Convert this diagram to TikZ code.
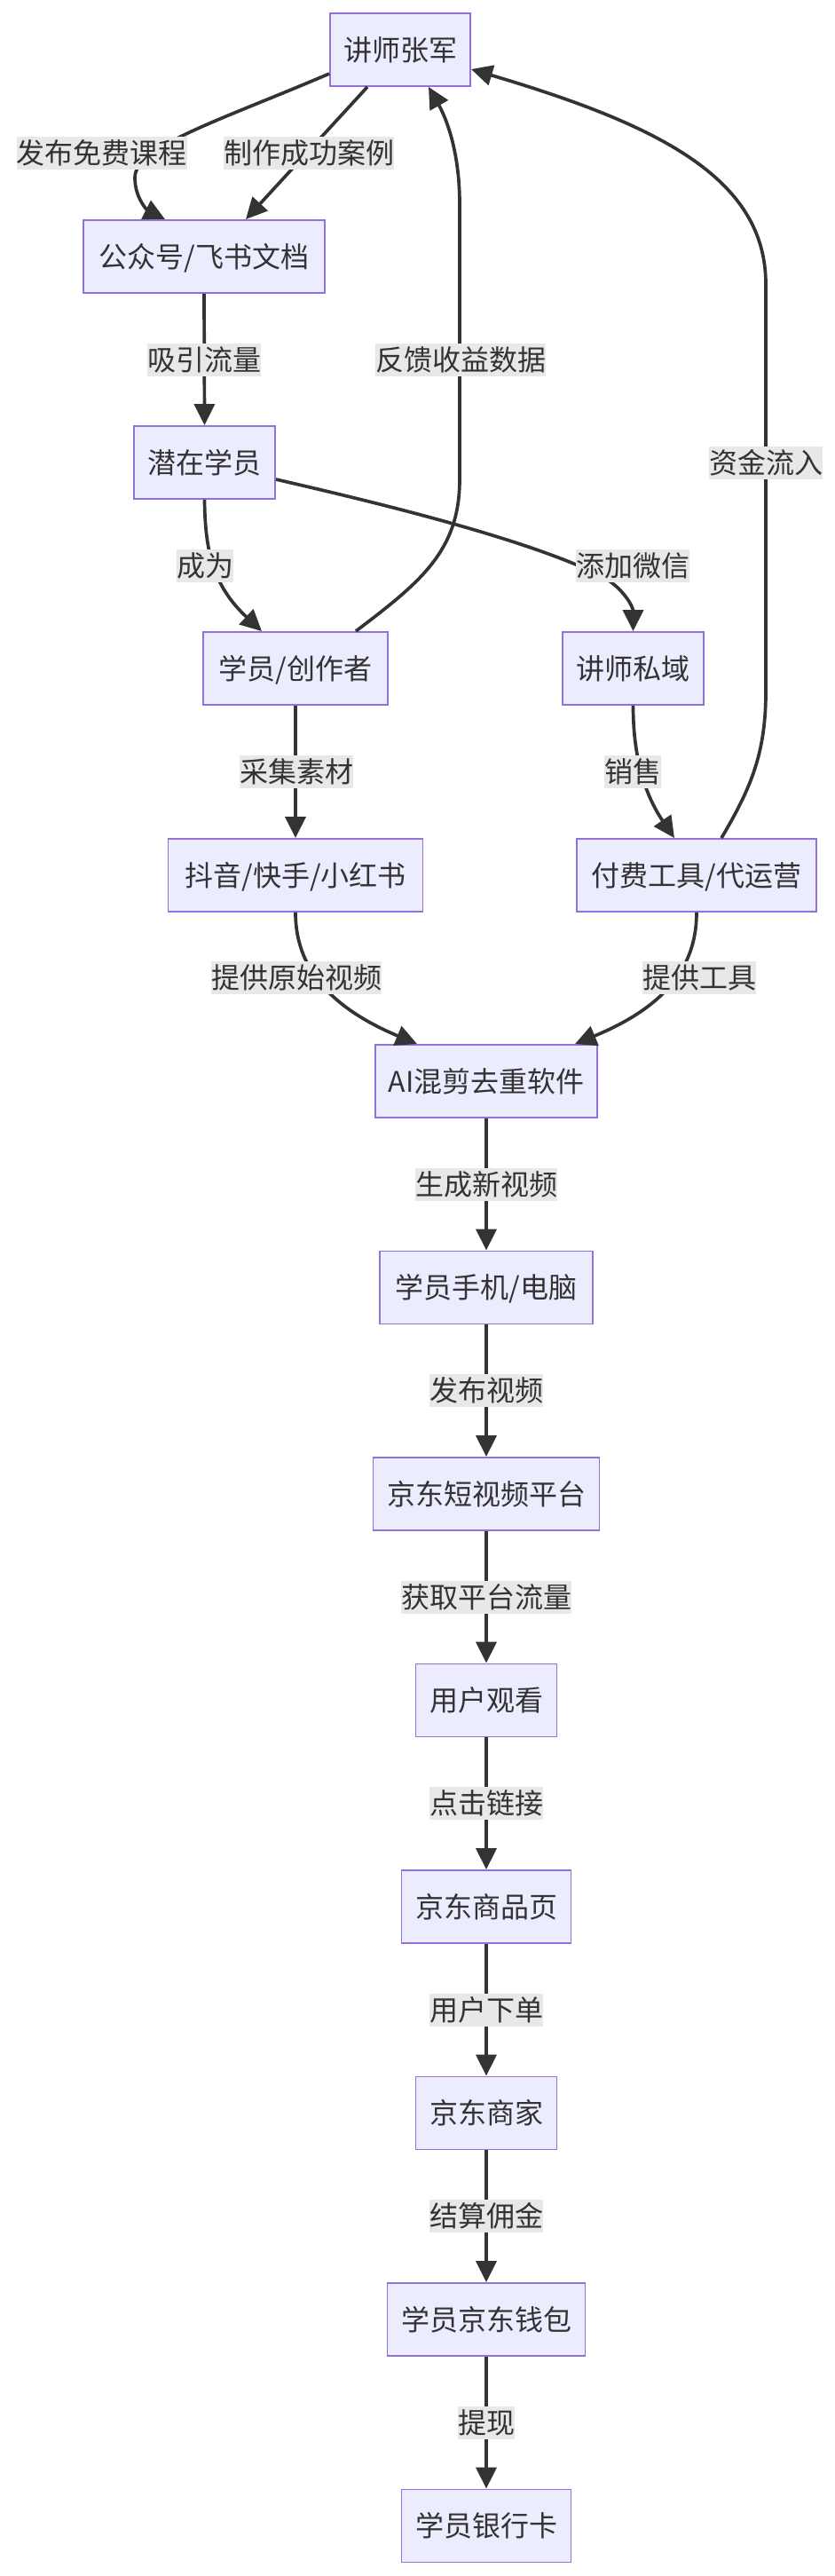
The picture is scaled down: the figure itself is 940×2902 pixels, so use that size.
\documentclass[tikz,border=0pt]{standalone}
\usepackage{fontspec}
\newfontfamily\cjk{Noto Sans CJK SC}
\usetikzlibrary{arrows.meta}
\definecolor{boxfill}{HTML}{ECECFF}
\definecolor{boxline}{HTML}{9370DB}
\definecolor{ink}{HTML}{333333}
\definecolor{lblbg}{HTML}{E8E8E8}
\begin{document}
\begin{tikzpicture}[x=1pt,y=-1pt,
  box/.style={draw=boxline, line width=1.9pt, fill=boxfill, minimum height=82pt,
    inner sep=0pt, text=ink, font=\cjk\fontsize{32}{38}\selectfont,
    text height=26pt, text depth=2pt},
  lbl/.style={fill=lblbg, inner sep=0pt, minimum height=37pt, text=ink,
    font=\cjk\fontsize{32}{38}\selectfont, text height=26pt, text depth=2pt},
  edge/.style={draw=ink, line width=3.7pt, -{Triangle[length=24pt,width=23pt]}},
]
\useasboundingbox[fill=white] (0,0) rectangle (940,2902);

% nodes
\node[box, minimum width=158pt] (T) at (451,56) {讲师张军};
\node[box, minimum width=272pt] (G) at (230,289) {公众号/飞书文档};
\node[box, minimum width=159pt] (P) at (230.5,521) {潜在学员};
\node[box, minimum width=208pt] (S) at (333,753) {学员/创作者};
\node[box, minimum width=159pt] (W) at (713.5,753) {讲师私域};
\node[box, minimum width=287pt] (D) at (333,986) {抖音/快手/小红书};
\node[box, minimum width=270pt] (F) at (785,986) {付费工具/代运营};
\node[box, minimum width=250pt] (A) at (548,1218) {AI混剪去重软件};
\node[box, minimum width=240pt] (M) at (548,1450.5) {学员手机/电脑};
\node[box, minimum width=255pt] (J) at (548,1683) {京东短视频平台};
\node[box, minimum width=159pt] (U) at (548,1915.5) {用户观看};
\node[box, minimum width=191pt] (Pg) at (548,2148) {京东商品页};
\node[box, minimum width=159pt] (Mc) at (548,2380.5) {京东商家};
\node[box, minimum width=223pt] (Wl) at (548,2613) {学员京东钱包};
\node[box, minimum width=191pt] (B) at (548,2845.5) {学员银行卡};

% edges
\draw[edge] ([yshift=-27pt]T.west) .. controls (250,135) and (152,165) .. (152,200)
  .. controls (152,225) and (168,238) .. ([xshift=-44pt]G.north);
\draw[edge] ([xshift=-37pt]T.south) -- ([xshift=47pt]G.north);
\draw[edge] (G.south) -- (P.north);
\draw[edge] ([xshift=68pt]S.north) .. controls (475,655) and (518,620) .. (518,540)
  -- (518,230) .. controls (518,165) and (500,128) .. ([xshift=32pt]T.south);
\draw[edge] ([xshift=28pt]F.north) .. controls (845,890) and (863,850) .. (863,780)
  -- (863,320) .. controls (863,200) and (740,140) .. ([yshift=-22pt]T.east);
\draw[edge] (P.south) .. controls (231,620) and (240,660) .. ([xshift=-38pt]S.north);
\draw[edge] ([yshift=-19pt]P.east) .. controls (450,572) and (600,610) .. (680,650)
  .. controls (705,665) and (713.5,685) .. (W.north);
\draw[edge] (S.south) -- (D.north);
\draw[edge] (W.south) .. controls (713.5,860) and (730,900) .. ([xshift=-25pt]F.north);
\draw[edge] (D.south) .. controls (333,1080) and (360,1130) .. ([xshift=-78pt]A.north);
\draw[edge] (F.south) .. controls (785,1080) and (760,1130) .. ([xshift=100pt]A.north);
\draw[edge] (A.south) -- (M.north);
\draw[edge] (M.south) -- (J.north);
\draw[edge] (J.south) -- (U.north);
\draw[edge] (U.south) -- (Pg.north);
\draw[edge] (Pg.south) -- (Mc.north);
\draw[edge] (Mc.south) -- (Wl.north);
\draw[edge] (Wl.south) -- (B.north);

% edge labels
\node[lbl] (l1) at (115,172) {发布免费课程};
\node[lbl] (l2) at (348,172) {制作成功案例};
\node[lbl] (l3) at (230,405) {吸引流量};
\node[lbl] (l4) at (519,405) {反馈收益数据};
\node[lbl] (l5) at (863,521) {资金流入};
\node[lbl] (l6) at (231,637) {成为};
\node[lbl] (l7) at (713,637) {添加微信};
\node[lbl] (l8) at (334,869) {采集素材};
\node[lbl] (l9) at (713,869) {销售};
\node[lbl] (l10) at (334,1101) {提供原始视频};
\node[lbl] (l11) at (788,1101) {提供工具};
\node[lbl] (l12) at (548,1334) {生成新视频};
\node[lbl] (l13) at (548,1566.5) {发布视频};
\node[lbl] (l14) at (548,1799) {获取平台流量};
\node[lbl] (l15) at (548,2031.5) {点击链接};
\node[lbl] (l16) at (548,2264) {用户下单};
\node[lbl] (l17) at (548,2496.5) {结算佣金};
\node[lbl] (l18) at (548,2729) {提现};
\end{tikzpicture}
\end{document}
